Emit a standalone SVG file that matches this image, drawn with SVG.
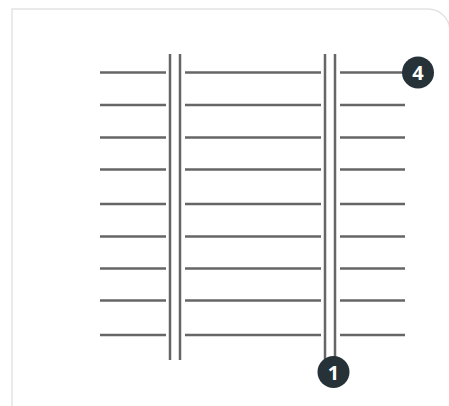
<svg xmlns="http://www.w3.org/2000/svg" width="449" height="406" viewBox="0 0 449 406">
<style>
.card{fill:#fff;stroke:#e3e3e3;stroke-width:1.5}
.ln{stroke:#666;stroke-width:2.5;fill:none}
.badge circle{fill:#263238}
.badge text{fill:#fff;font-family:"Open Sans","Liberation Sans",sans-serif;font-weight:700;font-size:20px;text-anchor:middle;dominant-baseline:central}
</style>
<path class="card" d="M12,410 V9 H428 A22 22 0 0 1 450 31 V410"/>
<g id="connectors">
<g class="ln">
<line x1="170" y1="54" x2="170" y2="360"/>
<line x1="180" y1="54" x2="180" y2="360"/>
<line x1="325" y1="54" x2="325" y2="360"/>
<line x1="335" y1="54" x2="335" y2="360"/>
<line x1="100" y1="72.5" x2="166" y2="72.5"/><line x1="185" y1="72.5" x2="321" y2="72.5"/><line x1="340" y1="72.5" x2="405" y2="72.5"/>
<line x1="100" y1="105" x2="166" y2="105"/><line x1="185" y1="105" x2="321" y2="105"/><line x1="340" y1="105" x2="405" y2="105"/>
<line x1="100" y1="137.5" x2="166" y2="137.5"/><line x1="185" y1="137.5" x2="321" y2="137.5"/><line x1="340" y1="137.5" x2="405" y2="137.5"/>
<line x1="100" y1="169.5" x2="166" y2="169.5"/><line x1="185" y1="169.5" x2="321" y2="169.5"/><line x1="340" y1="169.5" x2="405" y2="169.5"/>
<line x1="100" y1="204" x2="166" y2="204"/><line x1="185" y1="204" x2="321" y2="204"/><line x1="340" y1="204" x2="405" y2="204"/>
<line x1="100" y1="236.5" x2="166" y2="236.5"/><line x1="185" y1="236.5" x2="321" y2="236.5"/><line x1="340" y1="236.5" x2="405" y2="236.5"/>
<line x1="100" y1="268.5" x2="166" y2="268.5"/><line x1="185" y1="268.5" x2="321" y2="268.5"/><line x1="340" y1="268.5" x2="405" y2="268.5"/>
<line x1="100" y1="300.5" x2="166" y2="300.5"/><line x1="185" y1="300.5" x2="321" y2="300.5"/><line x1="340" y1="300.5" x2="405" y2="300.5"/>
<line x1="100" y1="335" x2="166" y2="335"/><line x1="185" y1="335" x2="321" y2="335"/><line x1="340" y1="335" x2="405" y2="335"/>
</g>
</g>
<g id="badge-4" class="badge"><circle cx="418" cy="72.5" r="16"/><text x="418" y="72.5">4</text></g>
<g id="badge-1" class="badge"><circle cx="333.5" cy="372" r="16"/><text x="333.5" y="372">1</text></g>
</svg>
